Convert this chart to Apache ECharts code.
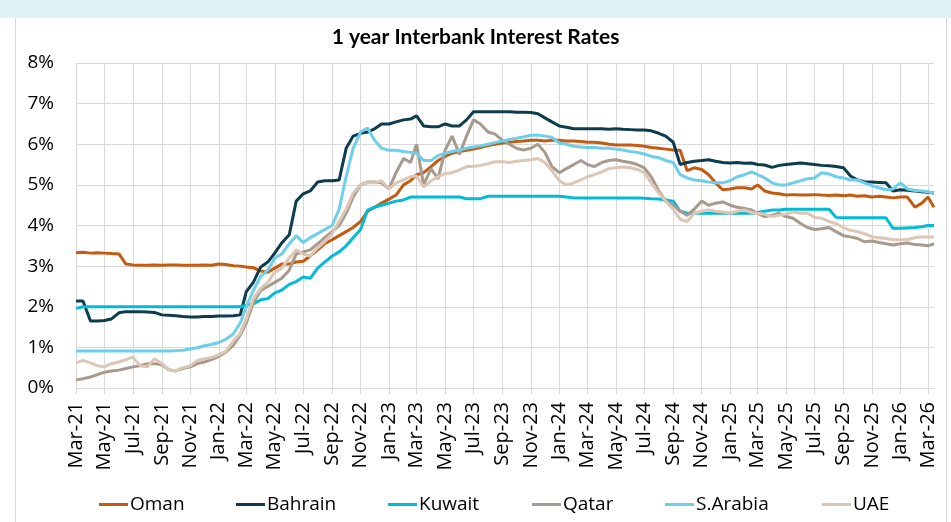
<!DOCTYPE html>
<html>
<head>
<meta charset="utf-8">
<script src="https://cdn.jsdelivr.net/npm/echarts@6/dist/echarts.min.js"></script>
<style>
  html, body { margin: 0; padding: 0; background: #ffffff; }
  #band { position: absolute; left: 0; top: 0; width: 951px; height: 18px; background: #e1f3f9; }
  #frame { position: absolute; left: 15px; top: 18px; width: 930px; height: 520px; border-left: 1px solid #d9d9d9; border-right: 1px solid #d9d9d9; }
  #chart { position: absolute; left: 0; top: 0; width: 951px; height: 522px; }
</style>
</head>
<body>
<div id="band"></div>
<div id="frame"></div>
<div id="chart"></div>
<script>
// Observation dates: the 1st and 16th of every month, Mar 2021 to Feb 2026, then Mar 2026.
const dates = [];
for (let y = 2021; y <= 2026; y++) {
  for (let m = 1; m <= 12; m++) {
    if (y === 2021 && m < 3) continue;
    if (y === 2026 && m > 2) break;
    const mm = String(m).padStart(2, '0');
    dates.push(y + '-' + mm + '-01', y + '-' + mm + '-16');
  }
}
dates.push('2026-03-01', '2026-03-14');

// Bimonthly axis ticks
const tickDates = [
  '2021-03-01','2021-05-01','2021-07-01','2021-09-01','2021-11-01',
  '2022-01-01','2022-03-01','2022-05-01','2022-07-01','2022-09-01','2022-11-01',
  '2023-01-01','2023-03-01','2023-05-01','2023-07-01','2023-09-01','2023-11-01',
  '2024-01-01','2024-03-01','2024-05-01','2024-07-01','2024-09-01','2024-11-01',
  '2025-01-01','2025-03-01','2025-05-01','2025-07-01','2025-09-01','2025-11-01',
  '2026-01-01','2026-03-01'
];
const monthNames = ['Jan','Feb','Mar','Apr','May','Jun','Jul','Aug','Sep','Oct','Nov','Dec'];

// 1-year interbank rates, % (two readings per month)
const oman = [
  3.33,3.34, 3.32,3.33, 3.32,3.31, 3.30,3.05, 3.03,3.02, 3.02,3.03, 3.02,3.03, 3.03,3.02,
  3.02,3.02, 3.03,3.02, 3.05,3.04, 3.01,3.00, 2.98,2.96, 2.88,2.85, 2.95,3.05, 3.05,3.10,
  3.12,3.25, 3.40,3.55, 3.65,3.75, 3.85,3.95, 4.10,4.35, 4.45,4.55, 4.65,4.75, 5.00,5.10,
  5.25,5.30, 5.45,5.60, 5.70,5.78, 5.82,5.85, 5.88,5.92, 5.97,6.00, 6.03,6.05, 6.07,6.08,
  6.10,6.10, 6.08,6.10, 6.10,6.08, 6.08,6.07, 6.05,6.05, 6.03,6.00, 5.98,5.98, 5.98,5.97,
  5.95,5.92, 5.90,5.88, 5.86,5.85, 5.35,5.42, 5.38,5.25, 5.05,4.88, 4.90,4.93, 4.93,4.90,
  5.00,4.85, 4.80,4.78, 4.75,4.76, 4.75,4.75, 4.76,4.75, 4.74,4.75, 4.73,4.75, 4.72,4.73,
  4.70,4.72, 4.70,4.68, 4.70,4.70, 4.45,4.55, 4.70,4.45
];
const bahrain = [
  2.14,2.14, 1.65,1.65, 1.66,1.70, 1.85,1.88, 1.88,1.88, 1.87,1.86, 1.80,1.79, 1.78,1.76,
  1.75,1.75, 1.76,1.76, 1.77,1.77, 1.78,1.80, 2.37,2.60, 2.98,3.10, 3.32,3.57, 3.77,4.60,
  4.78,4.85, 5.07,5.10, 5.10,5.12, 5.90,6.20, 6.27,6.30, 6.38,6.50, 6.50,6.55, 6.60,6.62,
  6.70,6.45, 6.43,6.43, 6.50,6.45, 6.45,6.60, 6.80,6.80, 6.80,6.80, 6.80,6.80, 6.79,6.79,
  6.78,6.75, 6.65,6.55, 6.45,6.42, 6.38,6.38, 6.38,6.38, 6.38,6.37, 6.38,6.37, 6.36,6.35,
  6.35,6.33, 6.27,6.20, 6.05,5.50, 5.55,5.58, 5.60,5.62, 5.58,5.55, 5.54,5.55, 5.53,5.54,
  5.50,5.49, 5.43,5.48, 5.50,5.52, 5.54,5.52, 5.50,5.48, 5.47,5.45, 5.42,5.22, 5.12,5.08,
  5.07,5.06, 5.05,4.85, 4.88,4.87, 4.85,4.83, 4.82,4.80
];
const kuwait = [
  1.96,2.00, 2.00,2.00, 2.00,2.00, 2.00,2.00, 2.00,2.00, 2.00,2.00, 2.00,2.00, 2.00,2.00,
  2.00,2.00, 2.00,2.00, 2.00,2.00, 2.00,2.00, 2.04,2.07, 2.17,2.20, 2.34,2.41, 2.55,2.62,
  2.73,2.70, 2.95,3.10, 3.25,3.35, 3.50,3.70, 3.90,4.38, 4.45,4.50, 4.55,4.60, 4.63,4.70,
  4.70,4.70, 4.70,4.70, 4.70,4.70, 4.70,4.66, 4.66,4.66, 4.72,4.72, 4.72,4.72, 4.72,4.72,
  4.72,4.72, 4.72,4.72, 4.72,4.70, 4.68,4.68, 4.68,4.68, 4.68,4.68, 4.68,4.68, 4.68,4.68,
  4.67,4.66, 4.65,4.63, 4.60,4.35, 4.30,4.30, 4.30,4.30, 4.30,4.30, 4.30,4.30, 4.30,4.30,
  4.32,4.35, 4.38,4.38, 4.40,4.40, 4.40,4.40, 4.40,4.40, 4.40,4.20, 4.19,4.19, 4.19,4.19,
  4.19,4.19, 4.19,3.93, 3.93,3.94, 3.95,3.97, 4.00,4.00
];
const qatar = [
  0.20,0.23, 0.27,0.33, 0.39,0.42, 0.44,0.48, 0.52,0.55, 0.60,0.60, 0.57,0.45, 0.42,0.48,
  0.52,0.60, 0.64,0.70, 0.78,0.88, 1.05,1.30, 1.60,2.10, 2.40,2.50, 2.60,2.70, 2.90,3.30,
  3.35,3.40, 3.55,3.70, 3.85,4.00, 4.30,4.70, 5.00,5.07, 5.07,5.05, 4.90,5.30, 5.65,5.55,
  6.00,5.00, 5.40,5.15, 5.85,6.20, 5.75,6.20, 6.60,6.50, 6.30,6.25, 6.10,6.00, 5.90,5.86,
  5.90,6.00, 5.80,5.45, 5.30,5.40, 5.50,5.60, 5.50,5.45, 5.55,5.60, 5.62,5.58, 5.55,5.50,
  5.42,5.20, 4.85,4.60, 4.50,4.35, 4.25,4.40, 4.60,4.50, 4.55,4.58, 4.50,4.45, 4.42,4.38,
  4.30,4.22, 4.25,4.30, 4.22,4.18, 4.05,3.95, 3.90,3.92, 3.95,3.85, 3.75,3.72, 3.68,3.60,
  3.62,3.58, 3.55,3.52, 3.55,3.57, 3.53,3.52, 3.50,3.55
];
const saudi = [
  0.91,0.91, 0.91,0.91, 0.91,0.91, 0.91,0.91, 0.91,0.91, 0.91,0.91, 0.91,0.91, 0.92,0.93,
  0.96,0.99, 1.04,1.07, 1.12,1.20, 1.33,1.60, 2.00,2.40, 2.75,2.90, 3.20,3.30, 3.55,3.75,
  3.58,3.70, 3.80,3.90, 4.00,4.40, 5.20,5.90, 6.30,6.40, 6.10,5.90, 5.85,5.85, 5.82,5.80,
  5.78,5.60, 5.60,5.72, 5.78,5.82, 5.86,5.90, 5.93,5.96, 6.00,6.04, 6.08,6.12, 6.15,6.18,
  6.22,6.23, 6.20,6.17, 6.03,6.00, 5.95,5.93, 5.92,5.92, 5.90,5.90, 5.88,5.86, 5.82,5.80,
  5.76,5.70, 5.67,5.60, 5.55,5.25, 5.17,5.12, 5.10,5.07, 5.05,5.05, 5.10,5.20, 5.25,5.32,
  5.25,5.17, 5.05,5.00, 5.00,5.05, 5.10,5.15, 5.17,5.30, 5.27,5.20, 5.17,5.12, 5.12,5.05,
  4.98,4.93, 4.88,4.90, 5.05,4.90, 4.86,4.85, 4.83,4.80
];
const uae = [
  0.62,0.68, 0.62,0.55, 0.52,0.60, 0.64,0.70, 0.76,0.55, 0.52,0.72, 0.60,0.45, 0.42,0.50,
  0.55,0.68, 0.72,0.75, 0.82,0.90, 1.15,1.35, 1.70,2.20, 2.45,2.60, 2.85,2.95, 3.20,3.40,
  3.30,3.25, 3.45,3.60, 3.80,4.10, 4.40,4.80, 5.00,5.05, 5.05,5.10, 4.90,5.05, 5.12,5.20,
  5.22,4.95, 5.10,5.20, 5.28,5.30, 5.37,5.45, 5.45,5.48, 5.52,5.57, 5.57,5.55, 5.58,5.60,
  5.62,5.65, 5.55,5.35, 5.10,5.00, 5.05,5.12, 5.20,5.25, 5.32,5.40, 5.42,5.44, 5.42,5.38,
  5.30,5.05, 4.80,4.60, 4.40,4.15, 4.10,4.30, 4.35,4.38, 4.35,4.33, 4.30,4.35, 4.38,4.32,
  4.30,4.28, 4.22,4.25, 4.28,4.33, 4.30,4.30, 4.20,4.18, 4.10,4.05, 3.95,3.88, 3.85,3.80,
  3.72,3.70, 3.68,3.65, 3.65,3.65, 3.70,3.72, 3.72,3.72
];

const seriesDefs = [
  { name: 'Oman',      values: oman,    color: '#c55a11' },
  { name: 'Bahrain',   values: bahrain, color: '#0c3c4e' },
  { name: 'Kuwait',    values: kuwait,  color: '#00bcd6' },
  { name: 'Qatar',     values: qatar,   color: '#a89a8c' },
  { name: 'S.Arabia',  values: saudi,   color: '#6dcfea' },
  { name: 'UAE',       values: uae,     color: '#dcc6b6' }
];

// The x axis counts days from 1 Mar 2021.
const DAY = 86400000;
const origin = Date.UTC(2021, 2, 1);
function dayOf(s) {
  const p = s.split('-').map(Number);
  return (Date.UTC(p[0], p[1] - 1, p[2]) - origin) / DAY;
}
const tickDays = tickDates.map(dayOf);

const FONT = '"Open Sans"';
const legendLefts = [99, 236, 388, 532, 665, 822];

const chart = echarts.init(document.getElementById('chart'), null, { renderer: 'canvas' });
chart.setOption({
  backgroundColor: 'transparent',
  animation: false,
  title: {
    text: '1 year Interbank Interest Rates',
    left: 'center',
    top: 22,
    textStyle: { fontFamily: 'Lato', fontWeight: 'bold', fontSize: 21, color: '#000' }
  },
  legend: seriesDefs.map((s, i) => ({
    data: [s.name],
    left: legendLefts[i],
    top: 495,
    padding: 0,
    icon: 'rect',
    itemWidth: 29,
    itemHeight: 3,
    itemGap: 3,
    textStyle: { fontFamily: FONT, fontSize: 19, color: '#000', padding: [0, 0, 0, -3] }
  })),
  grid: { left: 76, right: 17, top: 63, bottom: 134, containLabel: false },
  xAxis: {
    type: 'value',
    min: 0,
    max: dayOf('2026-03-14'),
    axisLine: { show: true, onZero: false, lineStyle: { color: '#d9d9d9', width: 1 } },
    axisTick: { show: true, customValues: tickDays, length: 6, lineStyle: { color: '#d9d9d9' } },
    splitLine: { show: true, lineStyle: { color: '#d9d9d9', width: 1 } },
    axisLabel: {
      customValues: tickDays,
      rotate: 90,
      margin: 14,
      fontFamily: FONT,
      fontSize: 20,
      color: '#000',
      formatter: function (v) {
        const d = new Date(origin + v * DAY);
        return monthNames[d.getUTCMonth()] + '-' + String(d.getUTCFullYear()).slice(2);
      }
    }
  },
  yAxis: {
    type: 'value',
    min: 0,
    max: 8,
    interval: 1,
    axisLine: { show: true, lineStyle: { color: '#d9d9d9' } },
    axisTick: { show: false },
    splitLine: { show: true, lineStyle: { color: '#d9d9d9', width: 1 } },
    axisLabel: { fontFamily: FONT, fontSize: 19, color: '#000', margin: 22, formatter: '{value}%' }
  },
  series: seriesDefs.map(s => ({
    name: s.name,
    type: 'line',
    data: dates.map((d, i) => [dayOf(d), s.values[i]]),
    showSymbol: false,
    symbol: 'none',
    lineStyle: { color: s.color, width: 3 },
    itemStyle: { color: s.color },
    emphasis: { disabled: true }
  }))
});
</script>
</body>
</html>
